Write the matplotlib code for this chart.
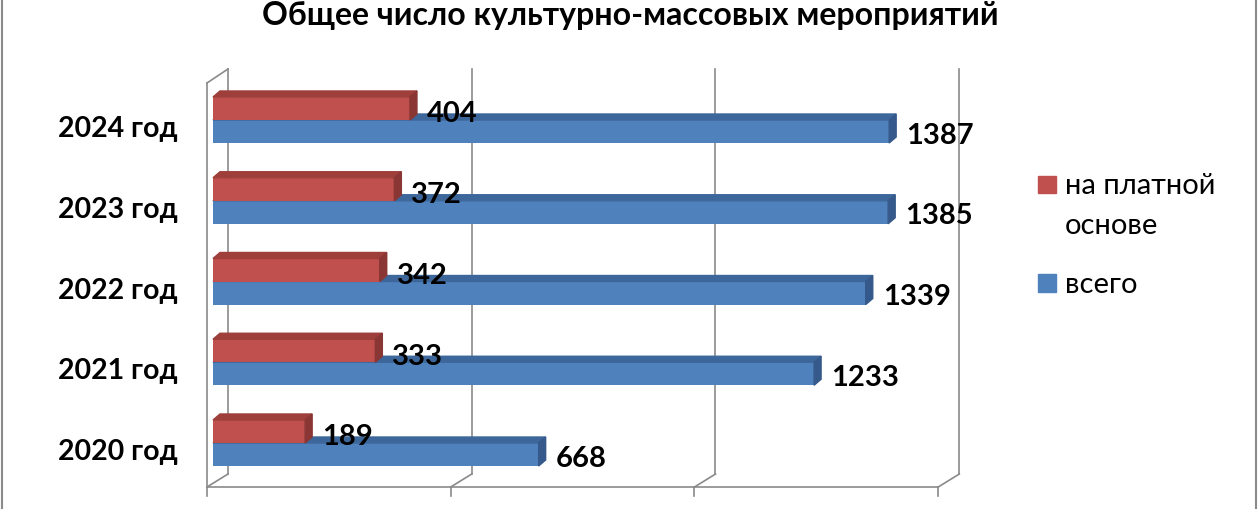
import matplotlib.pyplot as plt
from matplotlib.patches import Polygon, Rectangle
from matplotlib.lines import Line2D

# data
years = ['2020 год', '2021 год', '2022 год', '2023 год', '2024 год']
paid = [189, 333, 342, 372, 404]
total = [668, 1233, 1339, 1385, 1387]
grid_vals = [0, 500, 1000, 1500]
title = 'Общее число культурно-массовых мероприятий'

FONT = ['Lato', 'DejaVu Sans']
plt.rcParams['font.family'] = FONT

W, H = 1260, 510
fig = plt.figure(figsize=(W / 100, H / 100), dpi=100)
ax = fig.add_axes([0, 0, 1, 1])

# pixel scale of the plot
px = 0.4875      # pixels per unit on value axis
x0 = 213         # pixel of value 0 (bars)
cat = 80.75      # pixels per category
y0 = 444         # pixel row of first category centre
ax.set_xlim(-x0 / px, (W - x0) / px)
ax.set_ylim((y0 - H) / cat, y0 / cat)
ax.axis('off')


def ux(p):
    return p / px


def uy(p):
    return p / cat


def row(p):
    # pixel row -> data y
    return (y0 - p) / cat


grey = '#8a8a8a'
lw = 1.2

# walls / floor
fx = ux(-6)     # front plane shift
bx = ux(15)     # back plane shift
yf_bot, yf_top = row(488), row(84)
yb_bot, yb_top = row(475), row(70)
ax.plot([fx, fx], [yf_bot, yf_top], color=grey, lw=lw)
ax.plot([fx, bx], [yf_top, yb_top], color=grey, lw=lw)
ax.plot([fx, fx + 1500], [yf_bot, yf_bot], color=grey, lw=lw)
for v in grid_vals:
    ax.plot([bx + v, bx + v], [yb_bot, yb_top], color=grey, lw=lw)
    ax.plot([fx + v, bx + v], [yf_bot, yb_bot], color=grey, lw=lw)
    ax.plot([fx + v, fx + v], [yf_bot, row(497)], color=grey, lw=lw)

# 3d bars
h = 0.285
dx, dy = ux(7), uy(6)
red = ('#C0504D', '#9E3F3C', '#8A3634')
blue = ('#4F81BD', '#3D679B', '#35598A')


def bar3d(y, v, cols, z):
    bot, top = y - h / 2, y + h / 2
    ax.barh(y, v, height=h, left=0, color=cols[0], zorder=z)
    ax.add_patch(Polygon([(0, top), (v, top), (v + dx, top + dy), (dx, top + dy)],
                         closed=True, color=cols[1], zorder=z))
    ax.add_patch(Polygon([(v, bot), (v, top), (v + dx, top + dy), (v + dx, bot + dy)],
                         closed=True, color=cols[2], zorder=z))


for i in range(len(years)):
    bar3d(i - h / 2, total[i], blue, 3)
    bar3d(i + h / 2, paid[i], red, 4)
    ax.text(paid[i] + ux(17), i + h / 2 - uy(5), str(paid[i]), fontsize=21,
            fontweight='bold', va='center', ha='left', zorder=6)
    ax.text(total[i] + ux(17), i - h / 2 - uy(3), str(total[i]), fontsize=21,
            fontweight='bold', va='center', ha='left', zorder=6)
    ax.text(ux(178 - x0), i - uy(8), years[i], fontsize=20.5, fontweight='bold',
            va='center', ha='right')

# title
fig.text(0.5, 1 - 25 / H, title, fontsize=23, fontweight='bold',
         ha='center', va='baseline')

# legend
def fx_(p):
    return p / W


def fy_(p):
    return 1 - p / H


fig.add_artist(Rectangle((fx_(1038), fy_(194)), fx_(18), 17 / H, color=red[0]))
fig.add_artist(Rectangle((fx_(1038), fy_(293)), fx_(18), 18 / H, color=blue[0]))
fig.text(fx_(1065), fy_(186), 'на платной', fontsize=21, va='center', ha='left')
fig.text(fx_(1065), fy_(226), 'основе', fontsize=21, va='center', ha='left')
fig.text(fx_(1065), fy_(285), 'всего', fontsize=21, va='center', ha='left')

# chart border
fig.add_artist(Line2D([fx_(2), fx_(2)], [0, 1], color=grey, lw=1.5))
fig.add_artist(Line2D([fx_(1256), fx_(1256)], [0, 1], color=grey, lw=1.5))

fig.savefig('out.png', dpi=100)
